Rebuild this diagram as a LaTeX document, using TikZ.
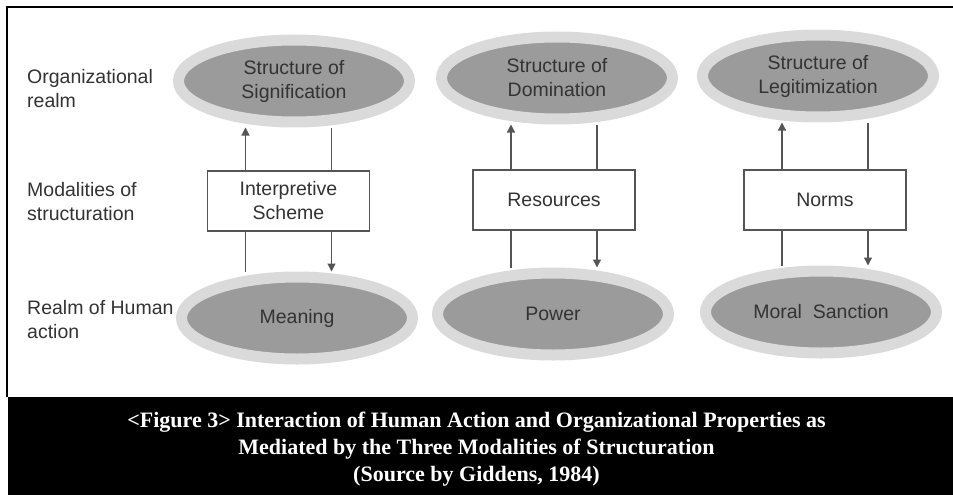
\documentclass[tikz,border=0pt]{standalone}
\usepackage{fontspec}
\setmainfont{Liberation Sans}
\newfontfamily\capfont{Liberation Serif}
\usetikzlibrary{shapes.geometric, arrows.meta}
\definecolor{figink}{HTML}{333333}
\definecolor{ringgray}{HTML}{DADADA}
\definecolor{coregray}{HTML}{9B9B9B}
\definecolor{boxline}{HTML}{555555}

\begin{document}
\begin{tikzpicture}[x=1pt, y=-1pt, >={Triangle[width=8pt, length=8pt]},
                    every node/.style={figink, font=\fontsize{19.5}{24}\selectfont},
                    realm/.style={ellipse, fill=coregray, draw=ringgray, line width=11pt,
                                  minimum width=231pt, minimum height=82pt, inner sep=0pt,
                                  align=center},
                    modality/.style={rectangle, fill=white, draw=boxline, line width=1.2pt,
                                     minimum width=162pt, minimum height=60pt, align=center},
                    rowlabel/.style={anchor=west, align=left, inner sep=0pt},
                    link/.style={boxline, line width=1.2pt}]

\useasboundingbox (0,0) rectangle (953,495);

%% ==== 外框與說明欄 =====================================================
\draw[black, line width=2.5pt] (953,7) -- (7,7) -- (7,397);
\fill[black] (8,397) rectangle (953,495);

%% ==== 左側的層次名稱 ===================================================
\node[rowlabel] (orglabel) at (27,89)  {Organizational\\realm};
\node[rowlabel] (modlabel) at (27,202) {Modalities of\\structuration};
\node[rowlabel] (humlabel) at (27,320) {Realm of Human\\action};

%% ==== 上排: 結構 =======================================================
\node[realm] (sig) at (294,81) {Structure of\\Signification};
\node[realm] (dom) at (557,78) {Structure of\\Domination};
\node[realm] (leg) at (818,76) {Structure of\\Legitimization};

%% ==== 中排: 結構化的中介 ===============================================
\node[modality] (interp) at (288.5,201) {Interpretive\\Scheme};
\node[modality] (res)    at (554,200)   {Resources};
\node[modality] (norm)   at (825,200)   {Norms};

%% ==== 下排: 人的行動 ===================================================
\node[realm] (mean)  at (297,318) {Meaning};
\node[realm] (pow)   at (553,314) {Power};
\node[realm] (moral) at (821,312) {Moral\ \ Sanction};

%% ==== 連線: 左線向上, 右線向下 =========================================
\foreach \strc/\moda/\actn in {sig/interp/mean, dom/res/pow, leg/norm/moral} {
  \draw[link, ->] ([xshift=-43pt]\moda.north) -- ([xshift=-43pt]\moda.north |- \strc.south);
  \draw[link]     ([xshift=43pt]\moda.north)  -- ([xshift=43pt]\moda.north |- \strc.south);
  \draw[link]     ([xshift=-43pt]\moda.south) -- ([xshift=-43pt]\moda.south |- \actn.north);
  \draw[link, ->] ([xshift=43pt]\moda.south)  -- ([xshift=43pt]\moda.south |- \actn.north);
}

%% ==== 圖說 =============================================================
\node[white, align=center, font=\capfont\bfseries\fontsize{22}{27}\selectfont]
  (caption) at (476.5,449)
  {<Figure 3> Interaction of Human Action and Organizational Properties as\\
   Mediated by the Three Modalities of Structuration\\
   (Source by Giddens, 1984)};

\end{tikzpicture}
\end{document}
